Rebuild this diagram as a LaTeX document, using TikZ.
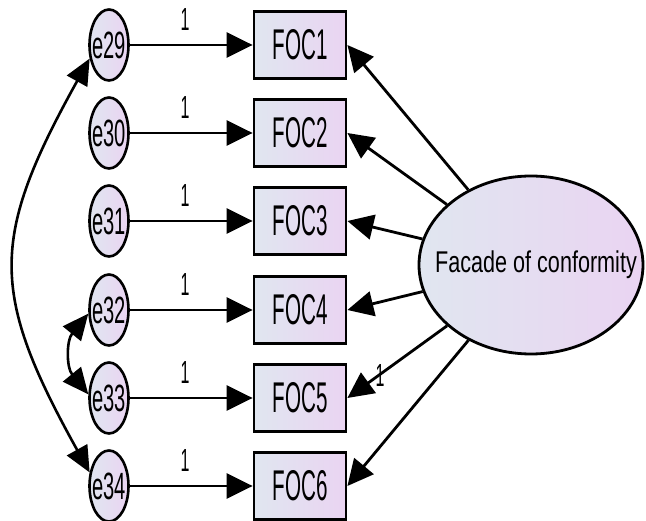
\documentclass[tikz,border=0pt]{standalone}
\usepackage{fontspec}
\setmainfont{Liberation Sans}
\usepackage{graphicx}
\usetikzlibrary{arrows.meta,shapes.geometric}
\definecolor{gl}{RGB}{224,230,240}
\definecolor{gr}{RGB}{234,212,242}
\newcommand{\sqtxt}[3]{\makebox[0pt]{\scalebox{#1}[1]{\fontsize{#2}{#2}\selectfont #3}}}
\begin{document}
\begin{tikzpicture}[x=1pt,y=-1pt,
  obs/.style={draw,line width=2.8pt,rectangle,minimum width=92pt,minimum height=67pt,inner sep=0pt,left color=gl,right color=gr},
  err/.style={draw,line width=2.6pt,ellipse,minimum width=39pt,minimum height=71pt,inner sep=0pt,left color=gl,right color=gr},
  lat/.style={draw,line width=2.8pt,ellipse,minimum width=224pt,minimum height=178pt,inner sep=0pt,left color=gl,right color=gr},
  lnk/.style={line width=2.8pt,-{Triangle[length=26pt,width=25pt]}},
  cov/.style={line width=2.6pt,{Triangle[length=26pt,width=23pt]}-{Triangle[length=26pt,width=23pt]}},
  lbl/.style={inner sep=0pt}
]
\useasboundingbox (0,0) rectangle (646,521);
% latent
\node[lat] (F) at (531,265) {\hspace{10pt}\sqtxt{0.72}{30}{Facade of conformity}};
% error terms
\node[err] (e29) at (109,45)  {\sqtxt{0.53}{38}{e29}};
\node[err] (e30) at (109,133) {\sqtxt{0.53}{38}{e30}};
\node[err] (e31) at (109,221) {\sqtxt{0.53}{38}{e31}};
\node[err] (e32) at (109,310) {\sqtxt{0.53}{38}{e32}};
\node[err] (e33) at (109,398) {\sqtxt{0.53}{38}{e33}};
\node[err] (e34) at (109,486) {\sqtxt{0.53}{38}{e34}};
% observed
\node[obs] (f1) at (300,45)  {\sqtxt{0.48}{43}{FOC1}};
\node[obs] (f2) at (300,133) {\sqtxt{0.48}{43}{FOC2}};
\node[obs] (f3) at (300,221) {\sqtxt{0.48}{43}{FOC3}};
\node[obs] (f4) at (300,310) {\sqtxt{0.48}{43}{FOC4}};
\node[obs] (f5) at (300,398) {\sqtxt{0.48}{43}{FOC5}};
\node[obs] (f6) at (300,486) {\sqtxt{0.48}{43}{FOC6}};
% error paths
\draw[lnk] (e29) -- (f1);
\draw[lnk] (e30) -- (f2);
\draw[lnk] (e31) -- (f3);
\draw[lnk] (e32) -- (f4);
\draw[lnk] (e33) -- (f5);
\draw[lnk] (e34) -- (f6);
\node[lbl] (l1) at (185,19)  {\sqtxt{0.5}{32}{1}};
\node[lbl] (l2) at (185,107) {\sqtxt{0.5}{32}{1}};
\node[lbl] (l3) at (185,195) {\sqtxt{0.5}{32}{1}};
\node[lbl] (l4) at (185,284) {\sqtxt{0.5}{32}{1}};
\node[lbl] (l5) at (185,372) {\sqtxt{0.5}{32}{1}};
\node[lbl] (l6) at (185,460) {\sqtxt{0.5}{32}{1}};
% loadings
\draw[lnk] (F) -- (f1.east);
\draw[lnk] (F) -- (f2.east);
\draw[lnk] (F) -- (f3.east);
\draw[lnk] (F) -- (f4.east);
\draw[lnk] (F) -- (f5.east);
\draw[lnk] (F) -- (f6.east);
\node[lbl] (l7) at (380,375) {\sqtxt{0.5}{32}{1}};
% covariances
\draw[cov] (e29.215) .. controls +(-100,180) and +(-100,-180) .. (e34.145);
\draw[cov] (e32.190) .. controls +(-22,27) and +(-22,-27) .. (e33.170);
\end{tikzpicture}
\end{document}
